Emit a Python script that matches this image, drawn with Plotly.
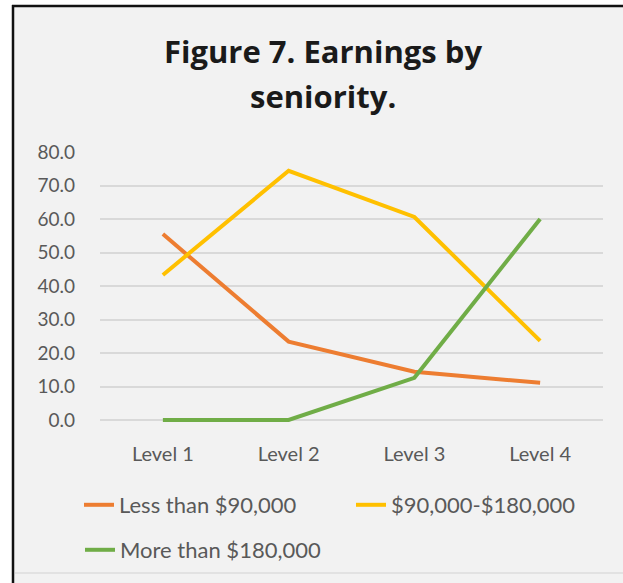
import plotly.graph_objects as go

# Chart data
levels = ["Level 1", "Level 2", "Level 3", "Level 4"]
series_names = ["Less than $90,000", "$90,000-$180,000", "More than $180,000"]
less_than_90k = [55.5, 23.4, 14.4, 11.1]
between_90k_180k = [43.3, 74.4, 60.6, 23.6]
more_than_180k = [0.0, 0.0, 12.6, 60.0]
series_values = [less_than_90k, between_90k_180k, more_than_180k]
series_colors = ["#ED7D31", "#FFC000", "#70AD47"]
series_legends = ["legend", "legend", "legend2"]
y_ticks = [0, 10, 20, 30, 40, 50, 60, 70, 80]
title_lines = ["Figure 7. Earnings by", "seniority."]

W, H = 623, 583
L, R, T, B = 100, 20, 152, 159
PW, PH = W - L - R, H - T - B
# 80 units span 268 px; a few px of headroom below zero keep the
# zero-valued line from being clipped at the plot edge
Y_MIN = -(PH - 268) * 80 / 268


def px_x(px):
    return (px - L) / PW


def px_y(py):
    return (H - B - py) / PH


FONT = "Lato"
TITLE_FONT = "Open Sans"
GREY = "#595959"
PANEL = "#f2f2f2"

fig = go.Figure()
for name, vals, color, leg in zip(series_names, series_values, series_colors, series_legends):
    fig.add_trace(go.Scatter(
        x=levels, y=vals, name=name, mode="lines",
        line=dict(color=color, width=4),
        legend=leg,
    ))

# Chart frame: the panel colour is the page colour; a white strip and
# dark rules mark the outer edge on the left and top.
fig.add_shape(type="rect", xref="paper", yref="paper",
              x0=px_x(0), x1=px_x(12), y0=px_y(0), y1=px_y(H),
              fillcolor="white", line=dict(width=0), layer="below")
fig.add_shape(type="rect", xref="paper", yref="paper",
              x0=px_x(0), x1=px_x(W), y0=px_y(0), y1=px_y(5),
              fillcolor="white", line=dict(width=0), layer="below")
fig.add_shape(type="line", xref="paper", yref="paper",
              x0=px_x(13), x1=px_x(13), y0=px_y(5), y1=px_y(H),
              line=dict(color="#111111", width=2.5), layer="below")
fig.add_shape(type="line", xref="paper", yref="paper",
              x0=px_x(12), x1=px_x(W), y0=px_y(6), y1=px_y(6),
              line=dict(color="#111111", width=2.5), layer="below")
fig.add_shape(type="line", xref="paper", yref="paper",
              x0=px_x(15), x1=px_x(W), y0=px_y(573), y1=px_y(573),
              line=dict(color="#dcdcdc", width=1.5), layer="below")

for line_text, py in zip(title_lines, [51, 96]):
    fig.add_annotation(text=f"<b>{line_text}</b>", xref="paper", yref="paper",
                       x=px_x(322.5), y=px_y(py), xanchor="center", yanchor="middle",
                       showarrow=False,
                       font=dict(family=TITLE_FONT, size=31, color="#1a1a1a"))

fig.update_layout(
    width=W, height=H,
    margin=dict(l=L, r=R, t=T, b=B),
    paper_bgcolor=PANEL,
    plot_bgcolor="rgba(0,0,0,0)",
    font=dict(family=FONT, color=GREY, size=19),
    xaxis=dict(
        type="category", range=[-0.5, 3.5],
        showgrid=False, zeroline=False, showline=False, ticks="",
        tickfont=dict(family=FONT, size=20, color=GREY),
        ticklabelstandoff=16,
    ),
    yaxis=dict(
        range=[Y_MIN, 80], tickvals=y_ticks, tickformat=".1f",
        showgrid=True, gridcolor="#d9d9d9", gridwidth=1.5,
        zeroline=False, showline=False, ticks="",
        tickfont=dict(family=FONT, size=19, color=GREY),
        ticklabelstandoff=24,
    ),
    legend=dict(
        orientation="h", x=px_x(80), y=px_y(505), xanchor="left", yanchor="middle",
        bgcolor="rgba(0,0,0,0)", font=dict(family=FONT, size=22, color=GREY),
        entrywidth=227, entrywidthmode="pixels",
    ),
    legend2=dict(
        orientation="h", x=px_x(80), y=px_y(550), xanchor="left", yanchor="middle",
        bgcolor="rgba(0,0,0,0)", font=dict(family=FONT, size=22, color=GREY),
    ),
    showlegend=True,
)

fig.write_html("out.html")
